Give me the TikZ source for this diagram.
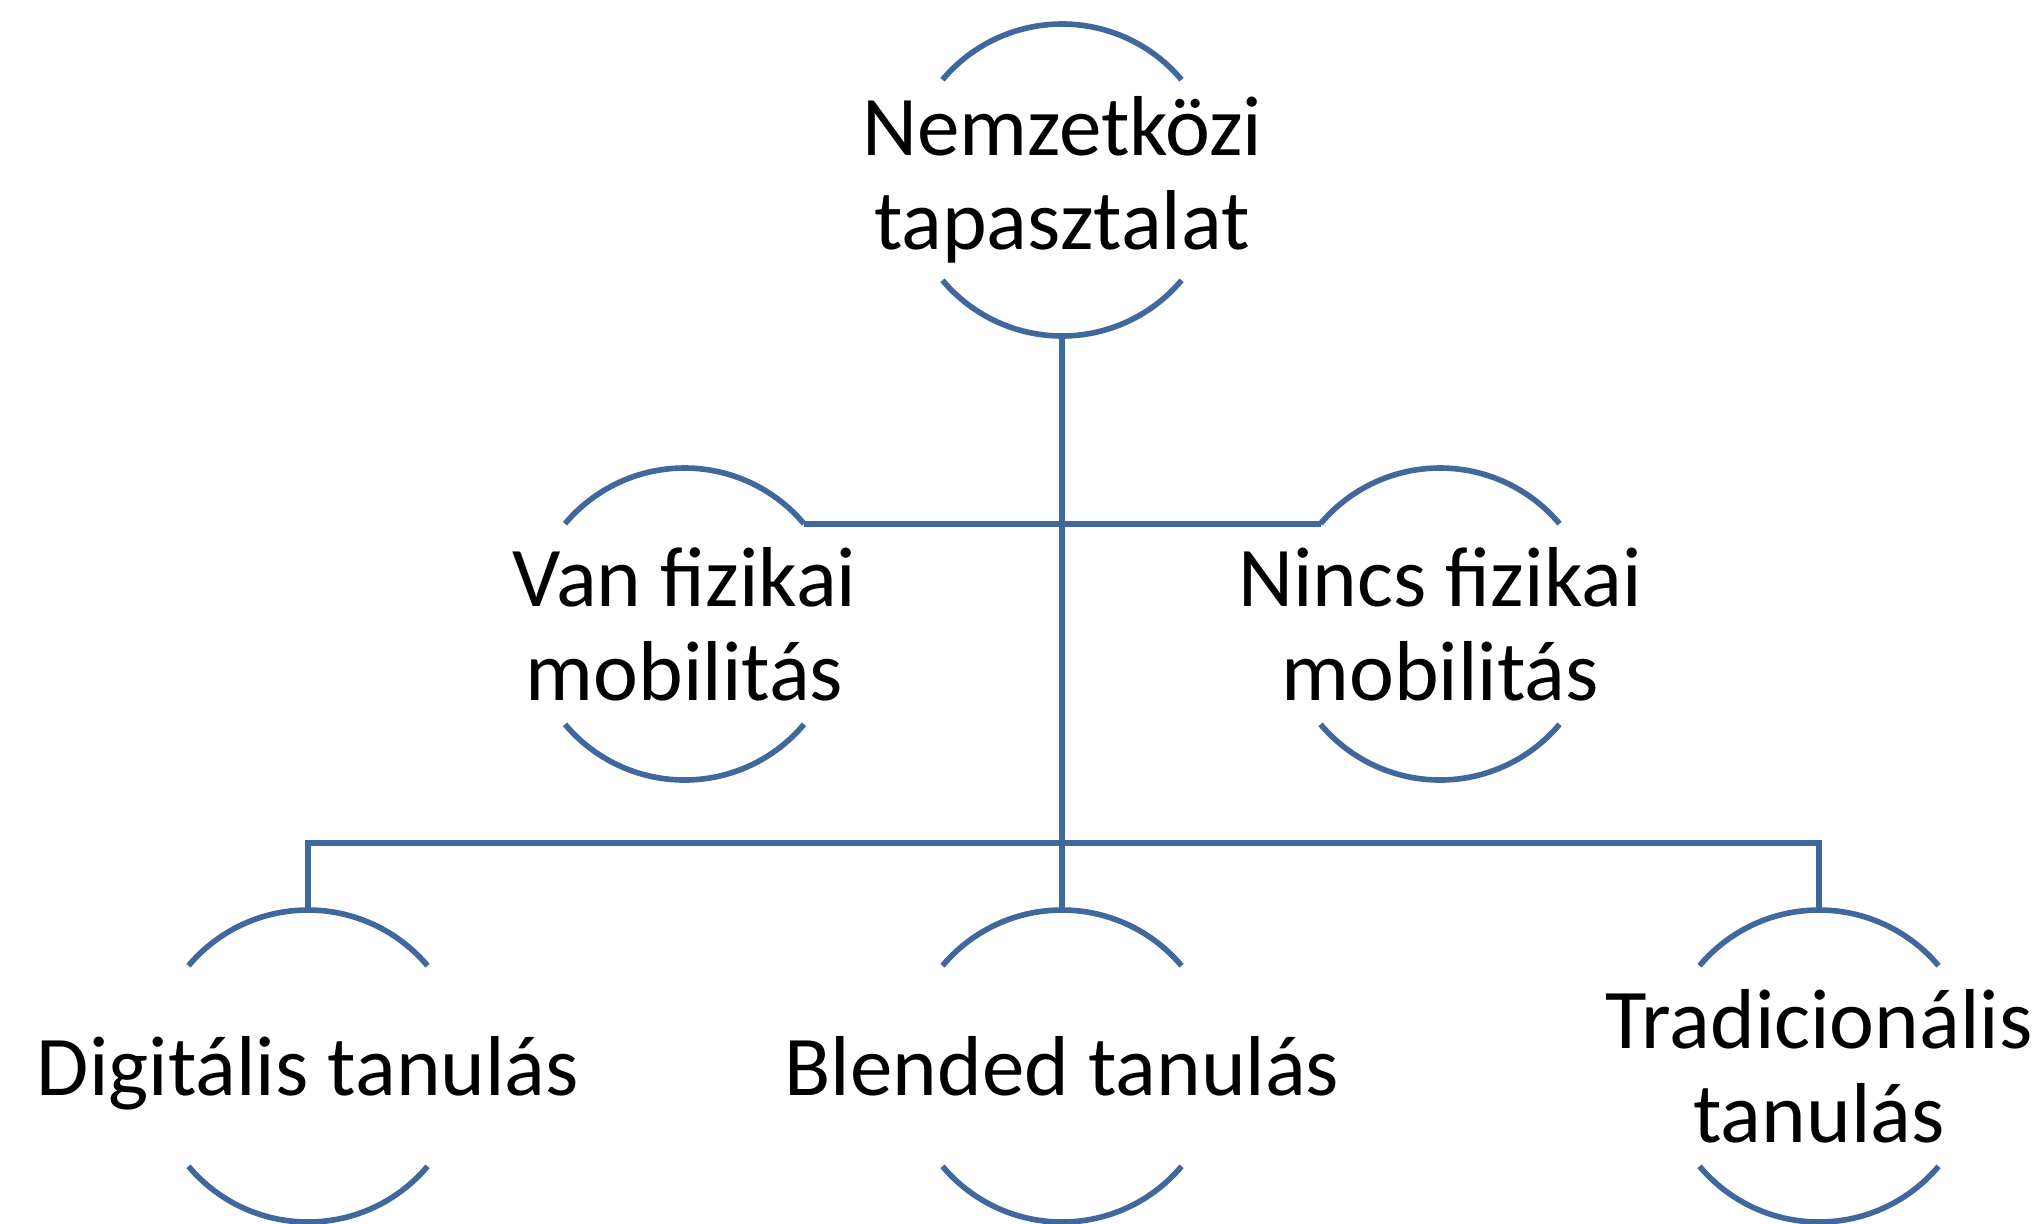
\documentclass[tikz,border=0pt]{standalone}
\usepackage{fontspec}
\setmainfont{Carlito}
\usepackage{tikz}
\usetikzlibrary{calc}
\definecolor{lnblue}{RGB}{64,104,156}

\tikzset{
	ring/.style={circle,minimum size=3.12cm,inner sep=0pt,outer sep=0pt},
	lbl/.style={align=center,inner sep=0pt,font=\fontsize{24.2}{26.8}\selectfont},
	ln/.style={lnblue,line width=1.6pt}
}

\begin{document}
\begin{tikzpicture}
	\useasboundingbox (0,0) rectangle (20.39,-12.23);
	
	\node[ring] (top) at (10.62,-1.80) {};
	\node[ring] (van) at (6.845,-6.24) {};
	\node[ring] (nincs) at (14.40,-6.24) {};
	\node[ring] (dig) at (3.08,-10.66) {};
	\node[ring] (blend) at (10.62,-10.66) {};
	\node[ring] (trad) at (18.19,-10.66) {};
	
	\node[lbl] (topt) at (top) {Nemzetközi\\tapasztalat};
	\node[lbl] (vant) at (van) {Van fizikai\\mobilitás};
	\node[lbl] (nincst) at (nincs) {Nincs fizikai\\mobilitás};
	\node[lbl,yshift=-0.07cm] (digt) at (dig) {Digitális tanulás};
	\node[lbl] (blendt) at (blend) {Blended tanulás};
	\node[lbl] (tradt) at (trad) {Tradicionális\\tanulás};
	
	% arcs above and below each label
	\foreach \n in {top,van,nincs,dig,blend,trad}{
		\draw[ln] (\n.40) arc[start angle=40,end angle=140,radius=1.56];
		\draw[ln] (\n.220) arc[start angle=220,end angle=320,radius=1.56];
	}
	
	\coordinate (bus) at ($(top.south)!0.8835!(blend.north)$);
	
	\draw[ln] (top.south) -- (blend.north);
	\draw[ln] (van.40) -- (nincs.140);
	\draw[ln] (dig.north) -- (dig.north |- bus) -- (trad.north |- bus) -- (trad.north);
\end{tikzpicture}
\end{document}
